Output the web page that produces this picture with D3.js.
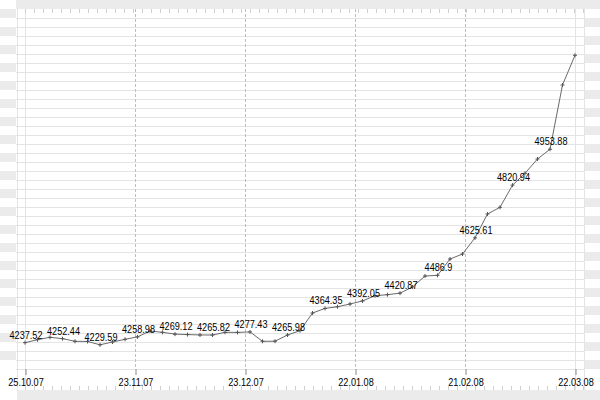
<!DOCTYPE html>
<html>
<head>
<meta charset="utf-8">
<script src="https://cdn.jsdelivr.net/npm/d3@7/dist/d3.min.js"></script>
<style>
  html, body { margin: 0; padding: 0; background: #fff; }
  svg { display: block; }
  text { font-family: "Liberation Sans", Arial, sans-serif; font-size: 11px; fill: #000; }
</style>
</head>
<body>
<svg id="chart" width="600" height="400"></svg>
<script>
// ---- data ----
const values = [
  4237.52, 4248.5, 4257.4, 4252.44, 4242.6, 4242.0, 4229.59, 4240.0, 4250.0,
  4258.98, 4280.7, 4275.9, 4269.12, 4267.5, 4266.0, 4265.82, 4275.9, 4275.5,
  4277.43, 4242.6, 4242.9, 4265.98, 4281.9, 4347.4, 4364.35, 4370.7, 4380.7,
  4392.05, 4411.5, 4415.2, 4420.87, 4443.7, 4484.4, 4486.9, 4547.4, 4565.9,
  4625.61, 4714.1, 4738.9, 4820.94, 4864.8, 4917.8, 4953.88, 5191.9, 5301.9
];
const labelEvery = 3;
const xTickLabels = ["25.10.07", "23.11.07", "23.12.07", "22.01.08", "21.02.08", "22.03.08"];
const yDomain = [4140, 5440];

// ---- layout ----
const W = 600, H = 400;
const plotL = 25, plotR = 575, plotT = 18, plotB = 369;
const gridStep = 9;
const bandTop = 9, bandBottom = 390;
const outerL = 16, outerR = 584;
const squeeze = "scale(0.83,1)";

const svg = d3.select("#chart");
const bandColor = "#ebebeb";
const gridColor = "#e4e4e4";

const x = d3.scaleLinear().domain([0, values.length - 1]).range([plotL, plotR]);
const y = d3.scaleLinear().domain(yDomain).range([plotB, plotT]);
const xAxisScale = d3.scalePoint().domain(xTickLabels).range([plotL, plotR]);

// bands
svg.append("rect").attr("x", outerL).attr("y", 0).attr("width", W - outerL).attr("height", bandTop).attr("fill", bandColor);
svg.append("rect").attr("x", outerL + 1).attr("y", bandBottom).attr("width", W - outerL - 1).attr("height", H - bandBottom).attr("fill", bandColor);

// side stripes
const nRows = Math.round((plotB - bandTop) / gridStep);
const rows = d3.range(nRows);
svg.append("g").selectAll("rect").data(rows.filter(r => r % 2 === 0)).join("rect")
  .attr("x", 0).attr("width", outerL)
  .attr("y", r => bandTop + r * gridStep).attr("height", gridStep)
  .attr("fill", bandColor);
svg.append("g").selectAll("rect").data(rows.filter(r => r % 2 === 1)).join("rect")
  .attr("x", outerR).attr("width", W - outerR)
  .attr("y", r => bandTop + r * gridStep).attr("height", gridStep)
  .attr("fill", bandColor);

// horizontal grid lines
const nGrid = Math.round((plotB - plotT) / gridStep) + 1;
const gridVals = d3.range(nGrid).map(k => yDomain[0] + k * (yDomain[1] - yDomain[0]) / (nGrid - 1));
svg.append("g").selectAll("line").data(gridVals).join("line")
  .attr("x1", outerL).attr("x2", outerR)
  .attr("y1", d => Math.round(y(d)) + 0.5).attr("y2", d => Math.round(y(d)) + 0.5)
  .attr("stroke", gridColor).attr("stroke-width", 1);

// solid vertical lines
[outerL + 1, plotL, plotR, outerR].forEach(vx => {
  svg.append("line").attr("x1", vx + 0.5).attr("x2", vx + 0.5)
    .attr("y1", bandTop).attr("y2", bandBottom)
    .attr("stroke", gridColor).attr("stroke-width", 1);
});

// dashed vertical lines at inner date ticks
svg.append("g").selectAll("line").data(xTickLabels.slice(1, -1)).join("line")
  .attr("x1", d => Math.round(xAxisScale(d)) + 0.5).attr("x2", d => Math.round(xAxisScale(d)) + 0.5)
  .attr("y1", bandTop).attr("y2", plotB)
  .attr("stroke", "#bdbdbd").attr("stroke-dasharray", "3,2");

// minor ticks top and bottom
const minor = d3.range(plotL, outerR + 1, gridStep);
svg.append("g").selectAll("line").data(minor).join("line")
  .attr("x1", d => d + 0.5).attr("x2", d => d + 0.5)
  .attr("y1", bandTop).attr("y2", bandTop + 4)
  .attr("stroke", "#d0d0d0");
svg.append("g").selectAll("line").data(minor).join("line")
  .attr("x1", d => d + 0.5).attr("x2", d => d + 0.5)
  .attr("y1", bandBottom - 4).attr("y2", bandBottom)
  .attr("stroke", "#d0d0d0");

// x axis
const xAxis = d3.axisBottom(xAxisScale).tickSize(6).tickPadding(3);
const gx = svg.append("g").attr("transform", `translate(0.5,${plotB})`).call(xAxis);
gx.select(".domain").remove();
gx.selectAll(".tick line").attr("stroke", "#888");
gx.selectAll(".tick text").attr("fill", "#000")
  .style("font-size", "11px")
  .style("font-family", '"Liberation Sans", Arial, sans-serif')
  .attr("transform", squeeze);

// series line
const line = d3.line().x((d, i) => x(i)).y(d => y(d));
svg.append("path").datum(values)
  .attr("d", line).attr("fill", "none").attr("stroke", "#6a6a6a").attr("stroke-width", 1);

// point markers (+)
const pts = svg.append("g").selectAll("g").data(values).join("g")
  .attr("transform", (d, i) => `translate(${x(i)},${y(d)})`);
pts.append("line").attr("x1", -2).attr("x2", 2).attr("y1", 0).attr("y2", 0).attr("stroke", "#555");
pts.append("line").attr("x1", 0).attr("x2", 0).attr("y1", -2).attr("y2", 2).attr("stroke", "#555");

// value labels
svg.append("g").selectAll("text")
  .data(values.map((v, i) => ({ v, i })).filter(d => d.i % labelEvery === 0 && d.i <= values.length - 3))
  .join("text")
  .attr("transform", d => `translate(${x(d.i) + 1},${y(d.v) - 4}) ${squeeze}`)
  .attr("text-anchor", "middle")
  .text(d => String(d.v));
</script>
</body>
</html>
